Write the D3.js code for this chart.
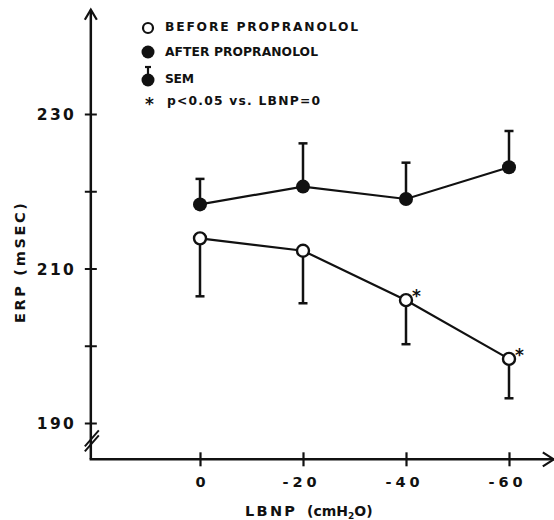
<!DOCTYPE html>
<html>
<head>
<meta charset="utf-8">
<script src="https://cdn.jsdelivr.net/npm/d3@7"></script>
<style>
  html, body { margin: 0; padding: 0; background: #fff; }
  svg { display: block; }
  text { font-family: "DejaVu Sans", sans-serif; font-weight: bold; fill: #111; }
</style>
</head>
<body>
<svg id="chart" width="554" height="520"></svg>
<script>
// ---- data ----
const lbnp = [0, -20, -40, -60];
const xTickLabels = ["0", "-20", "-40", "-60"];
const beforeERP = [213.9, 212.3, 205.9, 198.3];
const beforeSEM = [7.5, 6.8, 5.7, 5.1];
const afterERP = [218.3, 220.6, 219.0, 223.1];
const afterSEM = [3.3, 5.6, 4.7, 4.7];
const beforeSignificant = [false, false, true, true];
const yTicks = [190, 200, 210, 220, 230];
const yTickLabels = ["190", "", "210", "", "230"];
const xAxisExtent = [21.2, -68.7];
const yAxisExtent = [185.3, 243.5];

const ink = "#111";
const font = "'DejaVu Sans', sans-serif";
const svg = d3.select("#chart");

const x = d3.scaleLinear().domain([0, -60]).range([200, 509]);
const y = d3.scaleLinear().domain([190, 230]).range([423, 114]);

const x0 = x(xAxisExtent[0]);
const y0 = y(yAxisExtent[0]);

// ---- axes lines ----
svg.append("line")
  .attr("x1", x0).attr("y1", y0)
  .attr("x2", x0).attr("y2", y(yAxisExtent[1]))
  .attr("stroke", ink).attr("stroke-width", 2.5);
svg.append("line")
  .attr("x1", x0 - 1.2).attr("y1", y0)
  .attr("x2", x(xAxisExtent[1])).attr("y2", y0)
  .attr("stroke", ink).attr("stroke-width", 2.5);

// arrows
const yt = y(yAxisExtent[1]);
svg.append("path")
  .attr("d", `M${x0 - 6},${yt + 10} L${x0},${yt} L${x0 + 6},${yt + 10}`)
  .attr("fill", "none").attr("stroke", ink).attr("stroke-width", 2.2);
const xr = x(xAxisExtent[1]);
svg.append("path")
  .attr("d", `M${xr - 11},${y0 - 7} L${xr},${y0} L${xr - 11},${y0 + 7}`)
  .attr("fill", "none").attr("stroke", ink).attr("stroke-width", 2.2);

// axis break marks
[0, 5].forEach(o => {
  svg.append("line")
    .attr("x1", x0 - 6).attr("y1", y(188) + 8 + o)
    .attr("x2", x0 + 8).attr("y2", y(188) - 8 + o)
    .attr("stroke", ink).attr("stroke-width", 2);
});

// y axis ticks via d3 axis
const yAxisG = svg.append("g")
  .attr("transform", `translate(${x0},0)`)
  .call(d3.axisLeft(y).tickValues(yTicks).tickFormat((d, i) => yTickLabels[i]).tickSize(0));
yAxisG.select(".domain").remove();
yAxisG.selectAll(".tick line")
  .attr("x1", -6).attr("x2", 6)
  .attr("stroke", ink).attr("stroke-width", 2);
yAxisG.selectAll(".tick text")
  .attr("x", -54)
  .attr("dy", "0.36em")
  .attr("text-anchor", "start")
  .attr("textLength", 37).attr("lengthAdjust", "spacing")
  .style("font-size", "15.5px")
  .style("font-family", font)
  .style("font-weight", "bold")
  .attr("fill", ink);

// x axis ticks via d3 axis
const xAxisG = svg.append("g")
  .attr("transform", `translate(0,${y0})`)
  .call(d3.axisBottom(x).tickValues(lbnp).tickFormat((d, i) => xTickLabels[i]).tickSize(0));
xAxisG.select(".domain").remove();
xAxisG.selectAll(".tick line")
  .attr("y1", -7).attr("y2", 7)
  .attr("stroke", ink).attr("stroke-width", 2.2);
xAxisG.selectAll(".tick text")
  .attr("y", 22)
  .attr("dy", "0.36em")
  .attr("text-anchor", "start")
  .attr("x", (d, i) => xTickLabels[i].startsWith("-") ? -21 : -5)
  .each(function (d, i) {
    if (xTickLabels[i].length > 1) d3.select(this).attr("textLength", 34).attr("lengthAdjust", "spacing");
  })
  .style("font-size", "14.5px")
  .style("font-family", font)
  .style("font-weight", "bold")
  .attr("fill", ink);

// axis titles
svg.append("text")
  .attr("transform", "translate(25,263) rotate(-90)")
  .attr("x", -60)
  .attr("textLength", 120).attr("lengthAdjust", "spacing")
  .style("font-size", "14.5px")
  .text("ERP (mSEC)");

svg.append("text")
  .attr("x", 245).attr("y", 516)
  .attr("textLength", 50).attr("lengthAdjust", "spacing")
  .style("font-size", "14.5px")
  .text("LBNP");
const xt = svg.append("text")
  .attr("x", 307).attr("y", 516)
  .style("font-size", "14px");
xt.append("tspan").text("(cmH");
xt.append("tspan").attr("dy", 3).style("font-size", "9px").text("2");
xt.append("tspan").attr("dy", -3).text("O)");

// ---- series ----
const line = d3.line().x(d => x(d[0])).y(d => y(d[1]));
const beforePts = lbnp.map((v, i) => [v, beforeERP[i]]);
const afterPts = lbnp.map((v, i) => [v, afterERP[i]]);

// error bars (after: upward; before: downward)
const capW = 4.5;
lbnp.forEach((v, i) => {
  const cx = x(v);
  const yTop = y(afterERP[i] + afterSEM[i]);
  svg.append("line").attr("x1", cx).attr("x2", cx)
    .attr("y1", y(afterERP[i])).attr("y2", yTop)
    .attr("stroke", ink).attr("stroke-width", 2.5);
  svg.append("line").attr("x1", cx - capW).attr("x2", cx + capW)
    .attr("y1", yTop).attr("y2", yTop)
    .attr("stroke", ink).attr("stroke-width", 2.5);
  const yBot = y(beforeERP[i] - beforeSEM[i]);
  svg.append("line").attr("x1", cx).attr("x2", cx)
    .attr("y1", y(beforeERP[i])).attr("y2", yBot)
    .attr("stroke", ink).attr("stroke-width", 2.5);
  svg.append("line").attr("x1", cx - capW).attr("x2", cx + capW)
    .attr("y1", yBot).attr("y2", yBot)
    .attr("stroke", ink).attr("stroke-width", 2.5);
});

svg.append("path").datum(afterPts).attr("d", line)
  .attr("fill", "none").attr("stroke", ink).attr("stroke-width", 2.2);
svg.append("path").datum(beforePts).attr("d", line)
  .attr("fill", "none").attr("stroke", ink).attr("stroke-width", 2.2);

svg.selectAll(".afterDot").data(afterPts).enter().append("circle")
  .attr("cx", d => x(d[0])).attr("cy", d => y(d[1])).attr("r", 7)
  .attr("fill", ink);
svg.selectAll(".beforeDot").data(beforePts).enter().append("circle")
  .attr("cx", d => x(d[0])).attr("cy", d => y(d[1])).attr("r", 6)
  .attr("fill", "#fff").attr("stroke", ink).attr("stroke-width", 2.4);

// significance stars
svg.selectAll(".star").data(beforePts.filter((d, i) => beforeSignificant[i])).enter()
  .append("text")
  .attr("x", d => x(d[0]) + 6).attr("y", d => y(d[1]) + 2)
  .style("font-size", "17px")
  .text("*");

// ---- legend ----
const lg = svg.append("g");
lg.append("circle").attr("cx", 148).attr("cy", 28).attr("r", 5)
  .attr("fill", "#fff").attr("stroke", ink).attr("stroke-width", 2.2);
lg.append("circle").attr("cx", 148).attr("cy", 52).attr("r", 6.5).attr("fill", ink);
lg.append("circle").attr("cx", 148).attr("cy", 80).attr("r", 6.5).attr("fill", ink);
lg.append("line").attr("x1", 148).attr("x2", 148).attr("y1", 80).attr("y2", 67)
  .attr("stroke", ink).attr("stroke-width", 2.2);
lg.append("line").attr("x1", 145).attr("x2", 151).attr("y1", 67).attr("y2", 67)
  .attr("stroke", ink).attr("stroke-width", 2.2);
lg.append("text").attr("x", 145).attr("y", 110)
  .style("font-size", "17px").text("*");

const legendRows = [
  { t: "BEFORE PROPRANOLOL", x: 165, y: 27, w: 193 },
  { t: "AFTER PROPRANOLOL", x: 165, y: 52, w: 153 },
  { t: "SEM", x: 165, y: 79, w: 29 },
  { t: "p<0.05  vs.  LBNP=0", x: 167, y: 101, w: 153 }
];
legendRows.forEach(r => {
  lg.append("text")
    .attr("x", r.x).attr("y", r.y).attr("dy", "0.36em")
    .attr("textLength", r.w).attr("lengthAdjust", "spacing")
    .style("font-size", "12.3px")
    .text(r.t);
});
</script>
</body>
</html>
